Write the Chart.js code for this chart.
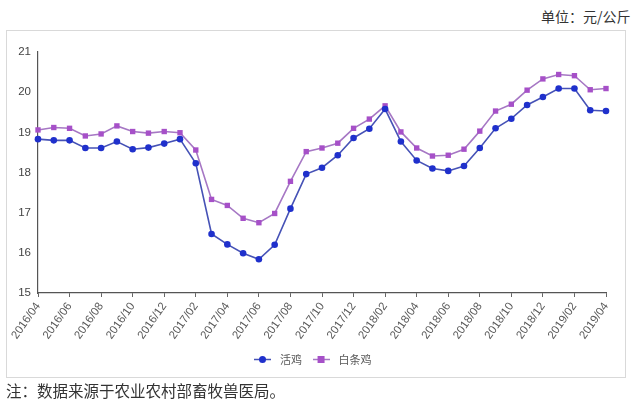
<!DOCTYPE html>
<html>
<head>
<meta charset="utf-8">
<script src="https://cdn.jsdelivr.net/npm/chart.js@4.4.0/dist/chart.umd.min.js"></script>
<style>
  html, body { margin: 0; padding: 0; background: #fff; overflow: hidden; }
  body { width: 640px; height: 399px; position: relative; }
  #box { position: absolute; left: 6px; top: 30px; width: 618px; height: 346px; border: 1px solid #d9d9d9; }
  #unit { position: absolute; left: 541px; top: 6px; font: 14px "Noto Sans CJK SC", sans-serif; color: #333; white-space: nowrap; }
  #note { position: absolute; left: 6px; top: 379px; font: 15.5px "Noto Sans CJK SC", sans-serif; color: #333; white-space: nowrap; }
  #c { position: absolute; left: 0; top: 0; }
</style>
</head>
<body>
<div id="box"></div>
<div id="unit">单位：元/公斤</div>
<canvas id="c" width="640" height="399"></canvas>
<div id="note">注：数据来源于农业农村部畜牧兽医局。</div>
<script>
// 月份 2016/04 ~ 2019/04
const months = ['2016/04','2016/05','2016/06','2016/07','2016/08','2016/09','2016/10','2016/11','2016/12',
  '2017/01','2017/02','2017/03','2017/04','2017/05','2017/06','2017/07','2017/08','2017/09','2017/10','2017/11','2017/12',
  '2018/01','2018/02','2018/03','2018/04','2018/05','2018/06','2018/07','2018/08','2018/09','2018/10','2018/11','2018/12',
  '2019/01','2019/02','2019/03','2019/04'];

// 活鸡
const liveChicken = [18.83,18.80,18.80,18.61,18.61,18.77,18.58,18.62,18.72,18.83,18.23,
  16.47,16.21,15.99,15.84,16.20,17.10,17.96,18.12,18.43,18.86,19.09,19.58,18.77,18.30,
  18.10,18.04,18.16,18.61,19.10,19.34,19.68,19.88,20.09,20.09,19.55,19.53];

// 白条鸡
const whiteChicken = [19.06,19.12,19.10,18.91,18.96,19.16,19.02,18.98,19.02,18.99,18.56,
  17.33,17.18,16.86,16.75,16.98,17.78,18.52,18.61,18.73,19.10,19.33,19.66,19.01,18.61,
  18.41,18.43,18.58,19.03,19.53,19.70,20.05,20.33,20.44,20.41,20.06,20.09];

const seriesNames = ['活鸡', '白条鸡'];
const yTicks = [15, 16, 17, 18, 19, 20, 21];

// 범례용 작은 아이콘 (선 + 마커)
function legendIcon(lineColor, markColor, square) {
  const cv = document.createElement('canvas');
  cv.width = 17; cv.height = 9;
  const g = cv.getContext('2d');
  g.strokeStyle = lineColor; g.lineWidth = 1.5;
  g.beginPath(); g.moveTo(0, 4.5); g.lineTo(17, 4.5); g.stroke();
  g.fillStyle = markColor;
  if (square) { g.fillRect(5, 1, 7, 7); }
  else { g.beginPath(); g.arc(8.5, 4.5, 3.5, 0, Math.PI * 2); g.fill(); }
  return cv;
}

const blueLine = '#4652b6', blueMark = '#1f30cc';
const purpleLine = '#a677c4', purpleMark = '#a650c8';

const legendShift = {
  id: 'legendShift',
  afterLayout(chart) {
    const lg = chart.legend;
    lg.left = 12; lg.right = 610;
  }
};

new Chart(document.getElementById('c'), {
  type: 'line',
  data: {
    labels: months,
    datasets: [{
      label: seriesNames[0],
      data: liveChicken,
      borderColor: blueLine,
      backgroundColor: blueMark,
      borderWidth: 1.6,
      pointRadius: 3.3,
      pointBorderWidth: 0,
      pointStyle: 'circle',
      tension: 0
    }, {
      label: seriesNames[1],
      data: whiteChicken,
      borderColor: purpleLine,
      backgroundColor: purpleMark,
      borderWidth: 1.6,
      pointRadius: 3.8,
      pointBorderWidth: 0,
      pointStyle: 'rect',
      tension: 0
    }]
  },
  options: {
    responsive: false,
    animation: false,
    layout: { padding: { left: 8, right: 34, top: 52, bottom: 24 } },
    plugins: {
      title: { display: false },
      tooltip: { enabled: false },
      legend: {
        position: 'bottom',
        labels: {
          usePointStyle: true,
          pointStyleWidth: 24,
          padding: 7,
          color: '#595959',
          font: { family: '"Noto Sans CJK SC", sans-serif', size: 11 },
          generateLabels(chart) {
            return [
              { text: seriesNames[0], pointStyle: legendIcon(blueLine, blueMark, false), datasetIndex: 0, fontColor: '#595959', lineWidth: 0 },
              { text: seriesNames[1], pointStyle: legendIcon(purpleLine, purpleMark, true), datasetIndex: 1, fontColor: '#595959', lineWidth: 0 }
            ];
          }
        }
      }
    },
    scales: {
      x: {
        afterFit(scale) { scale.height = 54; },
        grid: { display: true, drawOnChartArea: false, drawTicks: true, tickLength: 4, color: '#666' },
        border: { display: true, color: '#555', width: 1.2 },
        ticks: {
          autoSkip: false,
          minRotation: 55,
          maxRotation: 55,
          padding: 3,
          color: '#595959',
          font: { family: '"Liberation Sans", sans-serif', size: 11.5 },
          callback(value, index) { return index % 2 === 0 ? months[index] : null; }
        }
      },
      y: {
        min: yTicks[0],
        max: yTicks[yTicks.length - 1],
        afterFit(scale) { scale.width = 30; },
        afterBuildTicks(scale) { scale.ticks = yTicks.map(v => ({ value: v })); },
        grid: { display: true, drawOnChartArea: false, drawTicks: false },
        border: { display: true, color: '#555', width: 1.2 },
        ticks: {
          padding: 7,
          color: '#444',
          font: { family: '"Liberation Sans", sans-serif', size: 11.5 }
        }
      }
    }
  },
  plugins: [legendShift]
});
</script>
</body>
</html>
